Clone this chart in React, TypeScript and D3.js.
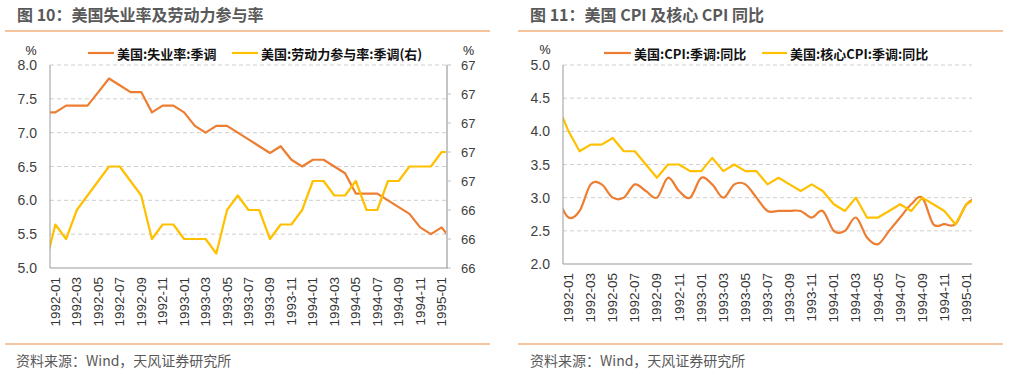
import React from "react";
import * as d3 from "d3";

// Month index: data[0] = 1991-12, data[1] = 1992-01 ... data[38] = 1995-02
const tickLabels = [
  "1992-01", "1992-03", "1992-05", "1992-07", "1992-09", "1992-11",
  "1993-01", "1993-03", "1993-05", "1993-07", "1993-09", "1993-11",
  "1994-01", "1994-03", "1994-05", "1994-07", "1994-09", "1994-11",
  "1995-01",
];

const unemployment = [
  7.3,
  7.3, 7.4, 7.4, 7.4, 7.6, 7.8, 7.7, 7.6, 7.6, 7.3, 7.4, 7.4,
  7.3, 7.1, 7.0, 7.1, 7.1, 7.0, 6.9, 6.8, 6.7, 6.8, 6.6, 6.5,
  6.6, 6.6, 6.5, 6.4, 6.1, 6.1, 6.1, 6.0, 5.9, 5.8, 5.6, 5.5,
  5.6, 5.4,
];

const participation = [
  66.0,
  66.3, 66.2, 66.4, 66.5, 66.6, 66.7, 66.7, 66.6, 66.5, 66.2, 66.3, 66.3,
  66.2, 66.2, 66.2, 66.1, 66.4, 66.5, 66.4, 66.4, 66.2, 66.3, 66.3, 66.4,
  66.6, 66.6, 66.5, 66.5, 66.6, 66.4, 66.4, 66.6, 66.6, 66.7, 66.7, 66.7,
  66.8, 66.8,
];

const cpi = [
  3.0,
  2.7, 2.8, 3.2, 3.2, 3.0, 3.0, 3.2, 3.1, 3.0, 3.3, 3.1, 3.0,
  3.3, 3.2, 3.0, 3.2, 3.2, 3.0, 2.8, 2.8, 2.8, 2.8, 2.7, 2.8,
  2.5, 2.5, 2.7, 2.4, 2.3, 2.5, 2.7, 2.9, 3.0, 2.6, 2.6, 2.6,
  2.9, 3.0,
];

const coreCpi = [
  4.4,
  4.0, 3.7, 3.8, 3.8, 3.9, 3.7, 3.7, 3.5, 3.3, 3.5, 3.5, 3.4,
  3.4, 3.6, 3.4, 3.5, 3.4, 3.4, 3.2, 3.3, 3.2, 3.1, 3.2, 3.1,
  2.9, 2.8, 3.0, 2.7, 2.7, 2.8, 2.9, 2.8, 3.0, 2.9, 2.8, 2.6,
  2.9, 3.0,
];

const leftTicksA = [5.0, 5.5, 6.0, 6.5, 7.0, 7.5, 8.0];
const rightTicksA = [66.0, 66.2, 66.4, 66.6, 66.8, 67.0, 67.2, 67.4];
const leftTicksB = [2.0, 2.5, 3.0, 3.5, 4.0, 4.5, 5.0];

const ORANGE = "#ED7D31";
const YELLOW = "#FFC000";
const NUM = "'Liberation Sans', Arial, sans-serif";
const CJK = "'Noto Sans CJK SC', 'Noto Sans CJK JP', sans-serif";

type Series = { values: number[]; color: string; axis: "left" | "right"; smooth?: boolean };

function Panel(props: {
  id: string;
  plotL: number; plotR: number; plotT: number; plotB: number;
  leftDomain: [number, number]; leftTicks: number[]; leftFmt: (v: number) => string;
  rightDomain?: [number, number]; rightTicks?: number[]; rightFmt?: (v: number) => string;
  series: Series[];
}) {
  const { plotL, plotR, plotT, plotB } = props;
  const x = d3.scaleLinear().domain([0.5, 37.5]).range([plotL, plotR]);
  const yL = d3.scaleLinear().domain(props.leftDomain).range([plotB, plotT]);
  const yR = props.rightDomain ? d3.scaleLinear().domain(props.rightDomain).range([plotB, plotT]) : yL;
  const clipId = "clip-" + props.id;
  return (
    <g>
      <defs>
        <clipPath id={clipId}>
          <rect x={plotL} y={plotT - 5} width={plotR - plotL} height={plotB - plotT + 10} />
        </clipPath>
      </defs>
      {props.leftTicks.filter((t) => t !== props.leftDomain[0]).map((t) => (
        <line key={"g" + t} x1={plotL} x2={plotR} y1={yL(t)} y2={yL(t)}
          stroke="#cfcfcf" strokeWidth={1} strokeDasharray="4,3" />
      ))}
      {props.leftTicks.map((t) => (
        <text key={"l" + t} x={plotL - 13} y={yL(t)} textAnchor="end" dominantBaseline="central"
          fontFamily={NUM} fontSize={14} fill="#404040">{props.leftFmt(t)}</text>
      ))}
      {props.rightTicks && props.rightTicks.map((t) => (
        <g key={"r" + t}>
          <line x1={plotR} x2={plotR + 4} y1={yR(t)} y2={yR(t)} stroke="#bfbfbf" strokeWidth={1} />
          <text x={plotR + 14} y={yR(t)} dominantBaseline="central"
            fontFamily={NUM} fontSize={13} fill="#404040">{props.rightFmt!(t)}</text>
        </g>
      ))}
      <g clipPath={`url(#${clipId})`}>
        {props.series.map((s, i) => {
          const yy = s.axis === "right" ? yR : yL;
          const line = d3.line<number>()
            .x((_, j) => x(j))
            .y((d) => yy(d))
            .curve(s.smooth ? d3.curveCatmullRom.alpha(0) : d3.curveLinear);
          return <path key={i} d={line(s.values) || ""} fill="none" stroke={s.color}
            strokeWidth={2.2} strokeLinejoin="round" />;
        })}
      </g>
      <line x1={plotL} x2={plotL} y1={plotT} y2={plotB} stroke="#9a9a9a" strokeWidth={1} />
      {props.rightTicks && (
        <line x1={plotR} x2={plotR} y1={plotT} y2={plotB} stroke="#c4c4c4" strokeWidth={2} />
      )}
      <line x1={plotL} x2={plotR + (props.rightTicks ? 1 : 0)} y1={plotB} y2={plotB} stroke="#9a9a9a" strokeWidth={1.2} />
      {tickLabels.map((lab, k) => {
        const xi = x(1 + 2 * k);
        return (
          <text key={lab} transform={`translate(${xi},${plotB + 9}) rotate(-90)`}
            textAnchor="end" dominantBaseline="central"
            fontFamily={NUM} fontSize={13.5} fill="#333">{lab}</text>
        );
      })}
    </g>
  );
}

function Legend(props: { items: { x: number; textX: number; label: string; color: string; lineEnd: number }[]; y: number }) {
  return (
    <g>
      {props.items.map((it) => (
        <g key={it.label}>
          <line x1={it.x} x2={it.lineEnd} y1={props.y} y2={props.y} stroke={it.color} strokeWidth={2.2} />
          <text x={it.textX} y={props.y} dominantBaseline="central" fontFamily={CJK}
            fontSize={13} fontWeight={700} fill="#111">{it.label}</text>
        </g>
      ))}
    </g>
  );
}

export default function App() {
  const f1 = d3.format(".1f");
  const f0 = d3.format(".0f");
  return (
    <div style={{ position: "absolute", left: 0, top: 0 }}>
      <svg width={1014} height={376} style={{ display: "block", background: "#fff" }}>
        {/* Left panel */}
        <text x={17} y={21} fontFamily={CJK} fontSize={16} fontWeight={700} fill="#595959">图 10：美国失业率及劳动力参与率</text>
        <line x1={5} x2={490} y1={31} y2={31} stroke="#E8893E" strokeWidth={1.2} />
        <text x={31} y={51} textAnchor="middle" dominantBaseline="central" fontFamily={NUM} fontSize={12.5} fill="#222">%</text>
        <text x={463} y={51} dominantBaseline="central" fontFamily={NUM} fontSize={12.5} fill="#222">%</text>
        <Legend y={53} items={[
          { x: 88, lineEnd: 114, textX: 117, label: "美国:失业率:季调", color: ORANGE },
          { x: 232, lineEnd: 258, textX: 261, label: "美国:劳动力参与率:季调(右)", color: YELLOW },
        ]} />
        <Panel id="a" plotL={50} plotR={447} plotT={65} plotB={268}
          leftDomain={[5, 8]} leftTicks={leftTicksA} leftFmt={f1}
          rightDomain={[66.0, 67.4]} rightTicks={rightTicksA} rightFmt={f0}
          series={[
            { values: unemployment, color: ORANGE, axis: "left" },
            { values: participation, color: YELLOW, axis: "right" },
          ]} />
        <line x1={5} x2={490} y1={344} y2={344} stroke="#E8893E" strokeWidth={1.2} />
        <text x={16} y={360} dominantBaseline="central" fontFamily={CJK} fontSize={14} fill="#595959">资料来源：Wind，天风证券研究所</text>

        {/* Right panel */}
        <text x={530} y={21} fontFamily={CJK} fontSize={16} fontWeight={700} fill="#595959">图 11：美国 CPI 及核心 CPI 同比</text>
        <line x1={518} x2={1003} y1={31} y2={31} stroke="#E8893E" strokeWidth={1.2} />
        <text x={545} y={50} textAnchor="middle" dominantBaseline="central" fontFamily={NUM} fontSize={12.5} fill="#222">%</text>
        <Legend y={53} items={[
          { x: 604, lineEnd: 631, textX: 634, label: "美国:CPI:季调:同比", color: ORANGE },
          { x: 762, lineEnd: 787, textX: 790, label: "美国:核心CPI:季调:同比", color: YELLOW },
        ]} />
        <Panel id="b" plotL={563} plotR={972} plotT={65} plotB={264}
          leftDomain={[2, 5]} leftTicks={leftTicksB} leftFmt={f1}
          series={[
            { values: cpi, color: ORANGE, axis: "left", smooth: true },
            { values: coreCpi, color: YELLOW, axis: "left" },
          ]} />
        <line x1={518} x2={1003} y1={344} y2={344} stroke="#E8893E" strokeWidth={1.2} />
        <text x={530} y={360} dominantBaseline="central" fontFamily={CJK} fontSize={14} fill="#595959">资料来源：Wind，天风证券研究所</text>
      </svg>
    </div>
  );
}
